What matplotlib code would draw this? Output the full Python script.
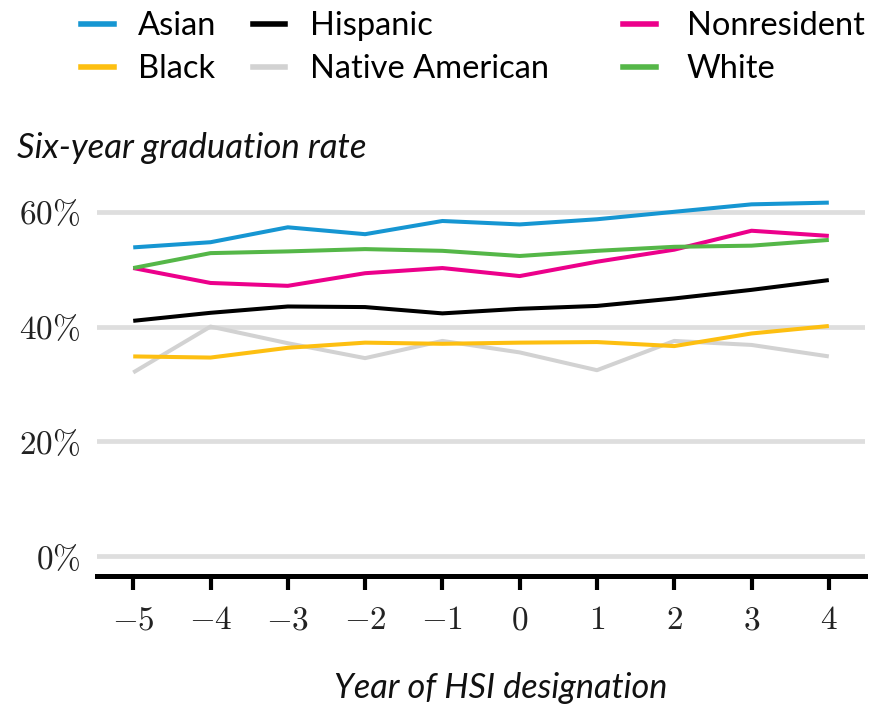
import numpy as np
import matplotlib
matplotlib.use("Agg")
import matplotlib.pyplot as plt
from matplotlib.lines import Line2D
from matplotlib.ticker import FuncFormatter

plt.rcParams['font.family'] = ['Lato', 'DejaVu Sans']
plt.rcParams['mathtext.fontset'] = 'cm'

years = [-5, -4, -3, -2, -1, 0, 1, 2, 3, 4]
asian = [53.8, 54.7, 57.3, 56.1, 58.4, 57.8, 58.7, 60.0, 61.3, 61.6]
black = [34.8, 34.6, 36.3, 37.2, 37.0, 37.2, 37.3, 36.6, 38.8, 40.1]
hispanic = [41.0, 42.4, 43.5, 43.4, 42.3, 43.1, 43.6, 44.9, 46.4, 48.1]
native_american = [32.0, 40.0, 37.1, 34.5, 37.5, 35.5, 32.4, 37.5, 36.8, 34.8]
nonresident = [50.2, 47.6, 47.1, 49.3, 50.2, 48.8, 51.3, 53.4, 56.7, 55.8]
white = [50.2, 52.8, 53.1, 53.5, 53.2, 52.3, 53.2, 53.9, 54.1, 55.1]

groups = ['Asian', 'Black', 'Hispanic', 'Native American', 'Nonresident', 'White']
series = [asian, black, hispanic, native_american, nonresident, white]
colors = ['#1696d2', '#fdbf11', '#000000', '#d2d2d2', '#ec008b', '#55b748']
# draw order: grey underneath
order = [3, 1, 2, 4, 5, 0]

fig = plt.figure(figsize=(8.73, 7.07), dpi=100)
ax = fig.add_axes([0.111, 0.185, 0.88, 0.556])

for i in order:
    ax.plot(years, series[i], color=colors[i], lw=2.9, solid_capstyle='butt', zorder=3)

ax.set_xlim(-5.47, 4.47)
ax.set_ylim(-3.5, 65)
ax.set_yticks([0, 20, 40, 60])
ax.set_xticks(years)
ax.yaxis.set_major_formatter(FuncFormatter(lambda v, p: r'$%d\%%$' % v))
ax.xaxis.set_major_formatter(FuncFormatter(lambda v, p: r'$%d$' % v))
ax.grid(axis='y', color='#dedede', lw=3.4, zorder=1)
ax.set_axisbelow(True)

for s in ['top', 'right', 'left']:
    ax.spines[s].set_visible(False)
ax.spines['bottom'].set_linewidth(3.6)
ax.tick_params(axis='x', length=10, width=3, color='black', labelsize=24, pad=11)
ax.tick_params(axis='y', length=0, labelsize=24, pad=12)
ax.tick_params(labelcolor='#222222')

fig.text(0.019, 0.791, 'Six-year graduation rate', fontsize=25, style='italic',
         ha='left', va='center', color='#111111')
fig.text(0.573, 0.027, 'Year of HSI designation', fontsize=24.7, style='italic',
         ha='center', va='center', color='#111111')

handles = [Line2D([], [], color=c, lw=4) for c in colors]
leg1 = fig.legend(handles[:4], groups[:4], ncol=2, loc='upper left',
                  bbox_to_anchor=(0.093, 0.984), frameon=False, fontsize=23.5,
                  handlelength=1.0, handletextpad=0.75, columnspacing=1.1,
                  labelspacing=0.4, borderaxespad=0, borderpad=0)
leg2 = fig.legend(handles[4:], groups[4:], ncol=1, loc='upper left',
                  bbox_to_anchor=(0.714, 0.984), frameon=False, fontsize=23.5,
                  handlelength=1.0, handletextpad=0.95,
                  labelspacing=0.4, borderaxespad=0, borderpad=0)

fig.savefig('out.png', dpi=100)
